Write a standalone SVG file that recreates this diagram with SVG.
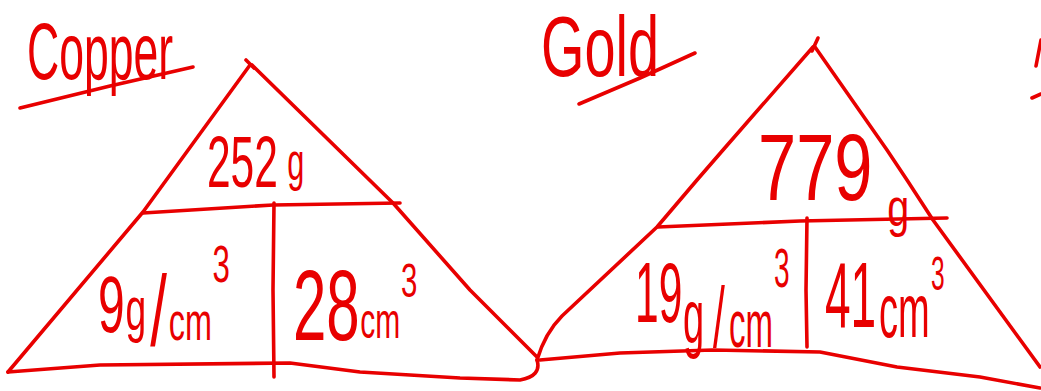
<svg xmlns="http://www.w3.org/2000/svg" width="1041" height="391" viewBox="0 0 1041 391">
<style>
.ln{fill:none;stroke:#e80000;stroke-width:3.6;stroke-linecap:round;stroke-linejoin:round}
.t{font-family:"Liberation Sans","DejaVu Sans",sans-serif;fill:#e80000}
</style>
<rect width="1041" height="391" fill="#ffffff"/>
<g id="copper-title">
<text class="t" x="27" y="79" font-size="80" textLength="146" lengthAdjust="spacingAndGlyphs">Copper</text>
<path class="ln" d="M20,108 L110,86 L193,67"/>
</g>
<g id="copper-triangle">
<path class="ln" d="M246,60 L254,68"/>
<path class="ln" d="M250,65 L143,212 L8,372"/>
<path class="ln" d="M252,65 L393,203 L470,290 L537,357"/>
<path class="ln" d="M8,372 L100,365 L290,363 L360,372 L460,378 L520,380 Q542,376 537,360"/>
<path class="ln" d="M143,213 L273,205 L400,203"/>
<path class="ln" d="M274,203 L273,290 L274,377"/>
<text class="t" transform="translate(207,187) scale(0.59,1)" font-size="72">252<tspan x="136" y="-7" font-size="52">g</tspan></text>
<text class="t" transform="translate(98,332) scale(0.6,1)" font-size="80">9<tspan x="46" y="-2" font-size="62">g</tspan><tspan x="87" y="14" font-size="100">/</tspan><tspan x="118" y="8" font-size="54">cm</tspan><tspan x="191" y="-50" font-size="52">3</tspan></text>
<text class="t" transform="translate(293,340) scale(0.6,1)" font-size="100">28<tspan x="112" y="-2" font-size="50">cm</tspan><tspan x="180" y="-43" font-size="49">3</tspan></text>
</g>
<g id="gold-title">
<text class="t" x="541" y="76" font-size="86" textLength="118" lengthAdjust="spacingAndGlyphs">Gold</text>
<path class="ln" d="M579,104 L640,78 L695,53"/>
</g>
<g id="gold-triangle">
<path class="ln" d="M818,38 L812,51"/>
<path class="ln" d="M537,360 Q545,333 562,316 L657,227 L697,180 L723,150 L813,47"/>
<path class="ln" d="M815,47 L887,150 L907,180 L933,220 L1040,367"/>
<path class="ln" d="M540,360 L620,353 L713,350 L820,352 L897,367 L980,377 L1040,388"/>
<path class="ln" d="M658,227 L800,221 L947,218"/>
<path class="ln" d="M807,218 L806,290 L807,347"/>
<text class="t" transform="translate(758,200) scale(0.73,1)" font-size="94">779<tspan x="177" y="26" font-size="54">g</tspan></text>
<text class="t" transform="translate(635,322) scale(0.5,1)" font-size="85">19<tspan x="96" y="21" font-size="76">g</tspan><tspan x="156" y="25" font-size="85">/</tspan><tspan x="188" y="25" font-size="66">cm</tspan><tspan x="278" y="-35" font-size="56">3</tspan></text>
<text class="t" transform="translate(825,327) scale(0.5,1)" font-size="92">41<tspan x="108" y="10" font-size="76">cm</tspan><tspan x="212" y="-37" font-size="49">3</tspan></text>
</g>
<g id="edge-fragment">
<path class="ln" d="M1041,40 L1036,66"/>
<path class="ln" d="M1032,98 L1041,94"/>
</g>
</svg>
